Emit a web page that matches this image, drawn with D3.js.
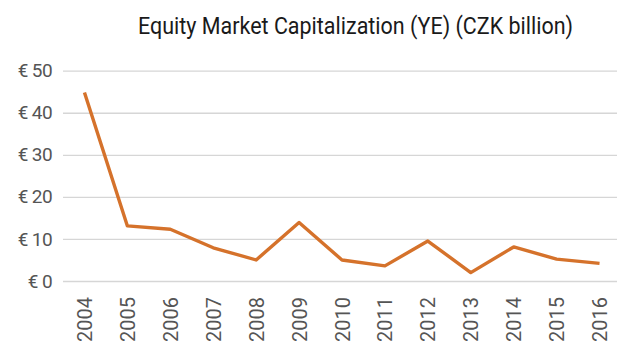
<!DOCTYPE html>
<html>
<head>
<meta charset="utf-8">
<script src="https://cdn.jsdelivr.net/npm/d3@7"></script>
<style>
  html, body { margin: 0; padding: 0; background: #fff; }
  svg { display: block; }
</style>
</head>
<body>
<svg id="chart" width="617" height="347"></svg>
<script>
// Year-end equity market capitalization, CZK billion
const years = ["2004","2005","2006","2007","2008","2009","2010","2011","2012","2013","2014","2015","2016"];
const capValues = [44.8, 13.1, 12.3, 7.9, 5.0, 13.9, 5.0, 3.6, 9.5, 2.0, 8.1, 5.2, 4.2];
const yTicks = [0, 10, 20, 30, 40, 50];
const titleText = "Equity Market Capitalization (YE) (CZK billion)";

const svg = d3.select("#chart");
const W = 617, H = 347;
const plot = { left: 63, right: 621, top: 70.7, bottom: 281 };

const x = d3.scalePoint().domain(years).range([plot.left, plot.right]).padding(0.5);
const y = d3.scaleLinear().domain([0, 50]).range([plot.bottom, plot.top]);

// Title
svg.append("text")
  .attr("x", 138).attr("y", 34)
  .attr("font-family", "Roboto, sans-serif")
  .attr("font-size", 23)
  .attr("fill", "#1a1a1a")
  .attr("textLength", 435)
  .attr("lengthAdjust", "spacingAndGlyphs")
  .text(titleText);

// Horizontal gridlines + y labels
const yAxis = d3.axisLeft(y).tickValues(yTicks).tickSize(-(W - plot.left)).tickFormat(d => "€ " + d);
const gy = svg.append("g").attr("transform", `translate(${plot.left},0)`).call(yAxis);
gy.select(".domain").remove();
gy.selectAll(".tick line").attr("stroke", "#d6d6d6").attr("stroke-width", 1.3);
gy.selectAll(".tick text")
  .attr("x", -11)
  .attr("font-family", "Roboto, sans-serif")
  .attr("font-size", 19)
  .attr("letter-spacing", -0.6)
  .attr("fill", "#555");

// Category labels (rotated)
const xAxis = d3.axisBottom(x).tickSize(0);
const gx = svg.append("g").attr("transform", `translate(0,${plot.bottom})`).call(xAxis);
gx.select(".domain").remove();
gx.selectAll(".tick text")
  .attr("transform", "rotate(-90)")
  .attr("x", -16)
  .attr("y", 0)
  .attr("dy", "0.35em")
  .attr("text-anchor", "end")
  .attr("font-family", "Roboto, sans-serif")
  .attr("font-size", 20)
  .attr("fill", "#555");

// Series line
const line = d3.line().x((d, i) => x(years[i])).y(d => y(d));
svg.append("path")
  .datum(capValues)
  .attr("d", line)
  .attr("fill", "none")
  .attr("stroke", "#d5722b")
  .attr("stroke-width", 3.4)
  .attr("stroke-linejoin", "round");
</script>
</body>
</html>
